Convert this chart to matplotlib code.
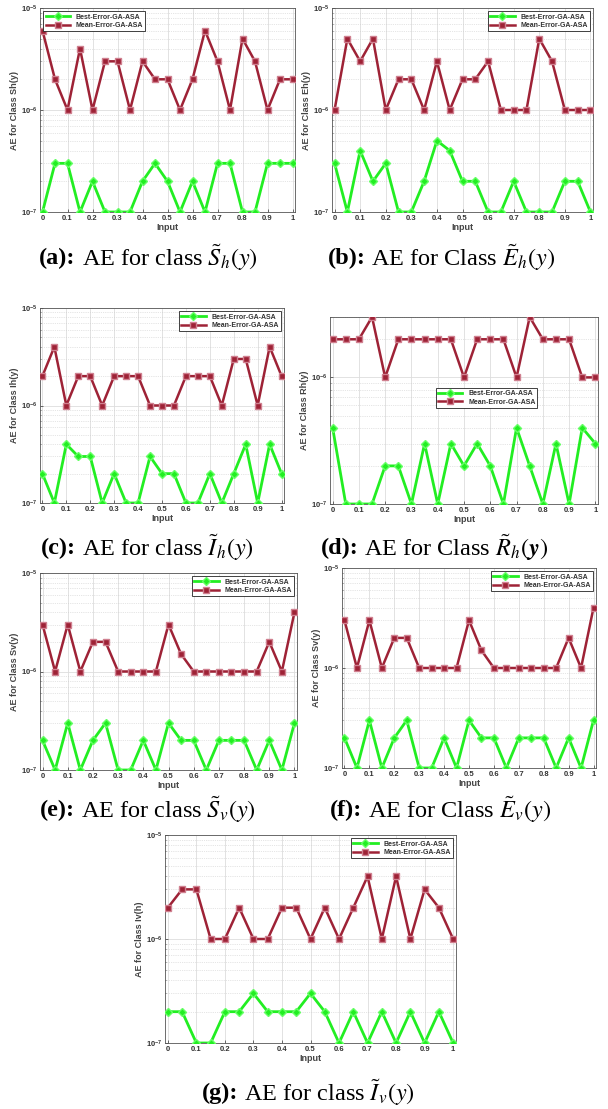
import matplotlib
matplotlib.use("Agg")
import matplotlib.pyplot as plt
import numpy as np

W, H = 608, 1109

x_input = [0, 0.05, 0.1, 0.15, 0.2, 0.25, 0.3, 0.35, 0.4, 0.45, 0.5,
           0.55, 0.6, 0.65, 0.7, 0.75, 0.8, 0.85, 0.9, 0.95, 1.0]
x_ticks = [0, 0.1, 0.2, 0.3, 0.4, 0.5, 0.6, 0.7, 0.8, 0.9, 1]
x_tick_labels = ["0", "0.1", "0.2", "0.3", "0.4", "0.5", "0.6", "0.7", "0.8", "0.9", "1"]

# values: mean in units of 1e-6, best in units of 1e-7
sh_mean = [6, 2, 1, 4, 1, 3, 3, 1, 3, 2, 2, 1, 2, 6, 3, 1, 5, 3, 1, 2, 2]
sh_best = [1, 3, 3, 1, 2, 1, 1, 1, 2, 3, 2, 1, 2, 1, 3, 3, 1, 1, 3, 3, 3]
eh_mean = [1, 5, 3, 5, 1, 2, 2, 1, 3, 1, 2, 2, 3, 1, 1, 1, 5, 3, 1, 1, 1]
eh_best = [3, 1, 4, 2, 3, 1, 1, 2, 5, 4, 2, 2, 1, 1, 2, 1, 1, 1, 2, 2, 1]
ih_mean = [2, 4, 1, 2, 2, 1, 2, 2, 2, 1, 1, 1, 2, 2, 2, 1, 3, 3, 1, 4, 2]
ih_best = [2, 1, 4, 3, 3, 1, 2, 1, 1, 3, 2, 2, 1, 1, 2, 1, 2, 4, 1, 4, 2]
rh_mean = [2, 2, 2, 3, 1, 2, 2, 2, 2, 2, 1, 2, 2, 2, 1, 3, 2, 2, 2, 1, 1]
rh_best = [4, 1, 1, 1, 2, 2, 1, 3, 1, 3, 2, 3, 2, 1, 4, 2, 1, 3, 1, 4, 3]
sv_mean = [3, 1, 3, 1, 2, 2, 1, 1, 1, 1, 3, 1.5, 1, 1, 1, 1, 1, 1, 2, 1, 4]
sv_best = [2, 1, 3, 1, 2, 3, 1, 1, 2, 1, 3, 2, 2, 1, 2, 2, 2, 1, 2, 1, 3]
ev_mean = [3, 1, 3, 1, 2, 2, 1, 1, 1, 1, 3, 1.5, 1, 1, 1, 1, 1, 1, 2, 1, 4]
ev_best = [2, 1, 3, 1, 2, 3, 1, 1, 2, 1, 3, 2, 2, 1, 2, 2, 2, 1, 2, 1, 3]
iv_mean = [2, 3, 3, 1, 1, 2, 1, 1, 2, 2, 1, 2, 1, 2, 4, 1, 4, 1, 3, 2, 1]
iv_best = [2, 2, 1, 1, 2, 2, 3, 2, 2, 2, 3, 2, 1, 2, 1, 2, 1, 2, 1, 2, 1]

series_labels = ["Best-Error-GA-ASA", "Mean-Error-GA-ASA"]

panels = [
    (sh_mean, sh_best, "AE for Class Sh(y)", "(a):", r" AE for class $\tilde{S}_h(y)$",
     (40, 8, 295, 212), 1e-5, "upper left", (147, 258)),
    (eh_mean, eh_best, "AE for Class Eh(y)", "(b):", r" AE for Class $\tilde{E}_h(y)$",
     (332, 8, 593, 212), 1e-5, "upper right", (440, 258)),
    (ih_mean, ih_best, "AE for Class Ih(y)", "(c):", r" AE for class $\tilde{I}_h(y)$",
     (40, 308, 284, 503), 1e-5, "upper right", (147, 548)),
    (rh_mean, rh_best, "AE for Class Rh(y)", "(d):", r" AE for Class $\tilde{R}_h(\mathbfit{y})$",
     (330, 317, 598, 504), 3e-6, "center", (433, 548)),
    (sv_mean, sv_best, "AE for Class Sv(y)", "(e):", r" AE for class $\tilde{S}_v(y)$",
     (40, 573, 297, 770), 1e-5, "upper right", (147, 810)),
    (ev_mean, ev_best, "AE for Class Sv(y)", "(f):", r" AE for Class $\tilde{E}_v(y)$",
     (342, 568, 596, 768), 1e-5, "upper right", (440, 810)),
    (iv_mean, iv_best, "AE for Class Iv(h)", "(g):", r" AE for class $\tilde{I}_v(y)$",
     (165, 835, 456, 1043), 1e-5, "upper right", (308, 1093)),
]

plt.rcParams['mathtext.fontset'] = 'stix'
sans = ['Liberation Sans', 'DejaVu Sans']
serif = ['Liberation Serif', 'DejaVu Serif']
CAP_FS = 17.5

fig = plt.figure(figsize=(W / 100, H / 100), dpi=100)
fig.patch.set_facecolor('white')

green = '#22ee22'
red = '#9e2236'

for mean, best, ylab, cap_a, cap_b, (l, t, r, b), ytop, loc, (cx, cy) in panels:
    ax = fig.add_axes([l / W, 1 - b / H, (r - l) / W, (b - t) / H])
    bv = np.array(best) * 1e-7
    mv = np.array(mean) * 1e-6
    ax.plot(x_input, bv, color=green, lw=2.0, marker='D', ms=4.5,
            mfc=green, mec='#66ff66', label=series_labels[0], zorder=3)
    ax.plot(x_input, mv, color=red, lw=1.8, marker='s', ms=4.5,
            mfc=red, mec='#d08090', label=series_labels[1], zorder=3)
    ax.set_yscale('log')
    ax.set_ylim(1e-7, ytop)
    ax.set_xlim(-0.01, 1.01)
    ax.set_xticks(x_ticks)
    ax.set_xticklabels(x_tick_labels)
    ax.set_yticks([1e-7, 1e-6, 1e-5] if ytop >= 1e-5 else [1e-7, 1e-6])
    ax.tick_params(axis='both', which='major', labelsize=5.5, length=2, width=0.5,
                   pad=2, colors='#333333', direction='in')
    ax.tick_params(axis='y', which='minor', length=1, width=0.4, direction='in')
    for lab in ax.get_xticklabels() + ax.get_yticklabels():
        lab.set_family(sans)
        lab.set_fontweight('bold')
    ax.grid(True, which='major', color='#dddddd', lw=0.6, ls='-')
    ax.grid(True, which='minor', axis='y', color='#cccccc', lw=0.5, ls=':')
    for s in ax.spines.values():
        s.set_color('#555555')
        s.set_linewidth(0.6)
    ax.set_xlabel("Input", fontsize=6.5, family=sans, color='#444444', labelpad=1,
                  fontweight='bold')
    ax.set_ylabel(ylab, fontsize=6.5, family=sans, color='#444444', labelpad=1,
                  fontweight='bold')
    leg = ax.legend(loc=loc, prop={'family': sans, 'size': 5, 'weight': 'bold'},
                    frameon=True, fancybox=False, edgecolor='#222222', framealpha=1,
                    handlelength=3.5, borderpad=0.3, labelspacing=0.2,
                    bbox_to_anchor=(0.585, 0.567) if loc == "center" else None)
    leg.get_frame().set_linewidth(0.6)
    for txt in leg.get_texts():
        txt.set_color('#333333')

    # caption: bold label + regular text, centred together
    fx, fy = cx / W, 1 - cy / H
    t1 = fig.text(fx, fy, cap_a + cap_b, fontsize=CAP_FS, family=serif,
                  ha='center', va='center', color='black')
    fig.canvas.draw()
    bb = t1.get_window_extent()
    t1.remove()
    ta = fig.text(bb.x0 / W, fy, cap_a, fontsize=CAP_FS, family=serif, fontweight='bold',
                  ha='left', va='center', color='black')
    fig.canvas.draw()
    bba = ta.get_window_extent()
    fig.text(bba.x1 / W, fy, cap_b, fontsize=CAP_FS, family=serif,
             ha='left', va='center', color='black')

fig.savefig("out.png", dpi=100, facecolor='white')
